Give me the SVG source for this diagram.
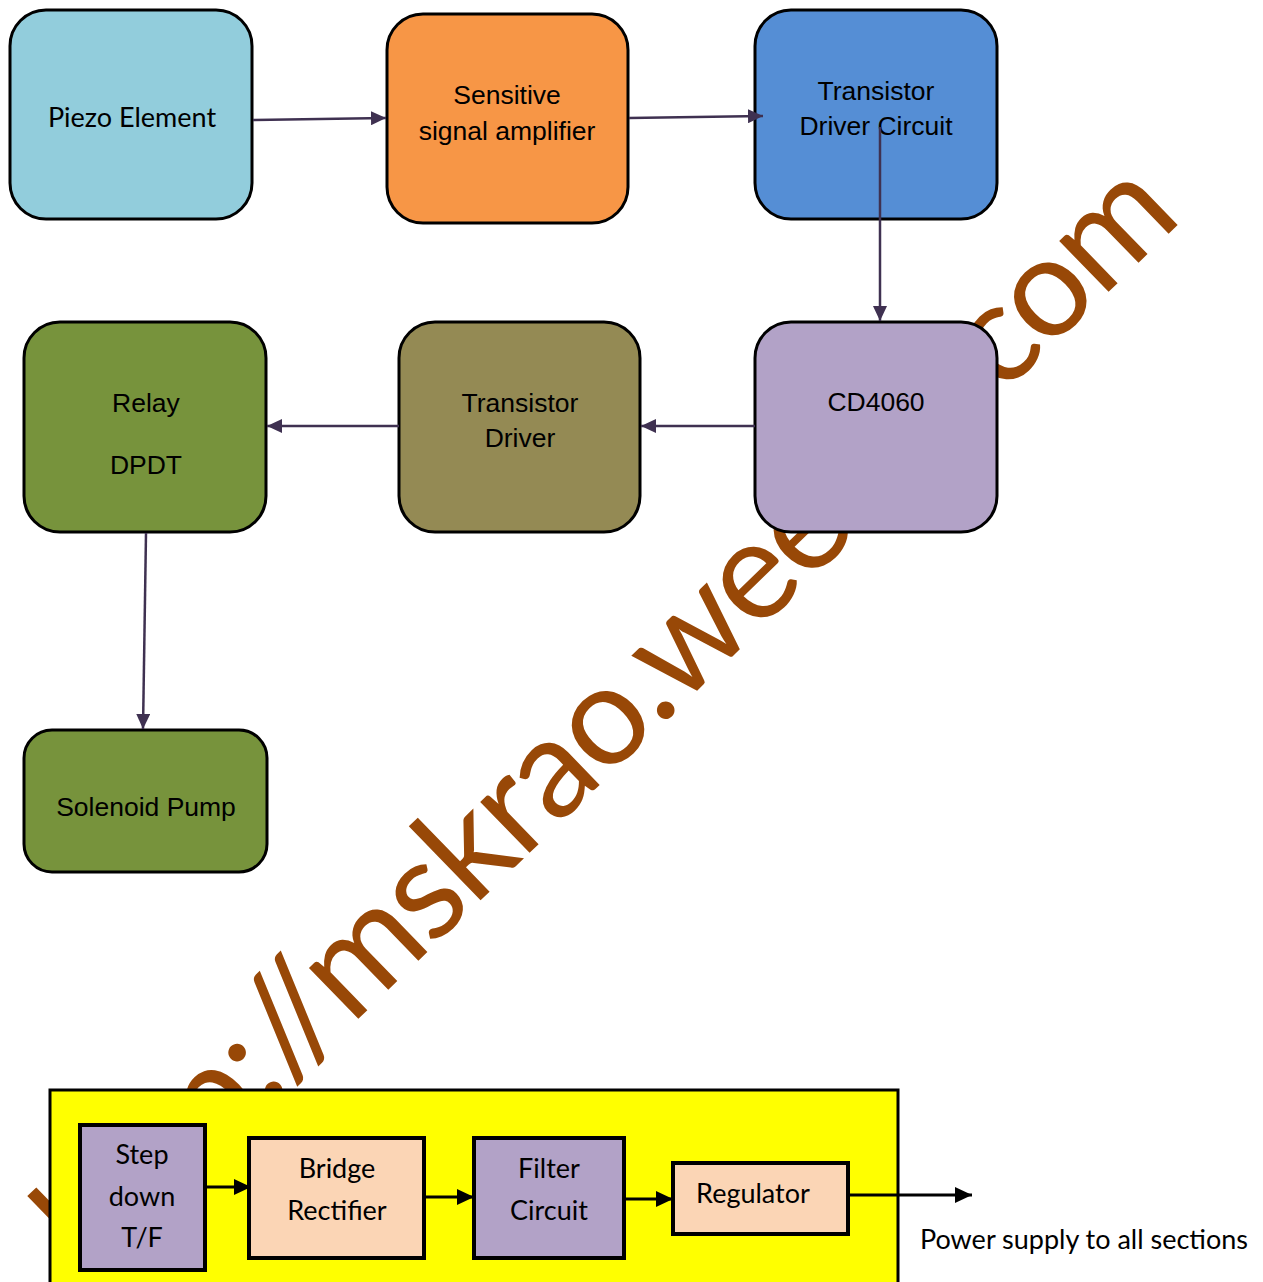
<svg xmlns="http://www.w3.org/2000/svg" width="1263" height="1282" viewBox="0 0 1263 1282">
<style>
.node{stroke:#000;stroke-width:3}
.sq{stroke:#000;stroke-width:4}
.ar{font-family:"Liberation Sans",Arial,sans-serif;font-size:26.5px;fill:#000;text-anchor:middle}
.ca{font-family:Lato,"Open Sans",sans-serif;font-size:27px;fill:#000;text-anchor:middle}
.pc{stroke:#3F3151;stroke-width:2.5;fill:none}
.bc{stroke:#000;stroke-width:3;fill:none}
.wm{font-family:Lato,"Open Sans",sans-serif;font-size:140px;fill:#984807}
</style>
<defs>
<marker id="pa" markerUnits="userSpaceOnUse" markerWidth="16" markerHeight="14" refX="15" refY="7" orient="auto">
<path d="M0,0 L15,7 L0,14 z" fill="#3F3151"/>
</marker>
<marker id="ba" markerUnits="userSpaceOnUse" markerWidth="18" markerHeight="16" refX="17" refY="8" orient="auto">
<path d="M0,0 L17,8 L0,16 z" fill="#000"/>
</marker>
</defs>
<rect width="1263" height="1282" fill="#fff"/>
<g id="watermark">
<text class="wm" transform="translate(92,1277) rotate(-44.1)" textLength="1521" lengthAdjust="spacing">http://mskrao.weebly.com</text>
</g>
<g id="piezo">
<rect class="node" x="10" y="10" width="242" height="209" rx="36" fill="#92CDDC"/>
<text class="ca" x="132" y="127">Piezo Element</text>
</g>
<g id="amplifier">
<rect class="node" x="387" y="14" width="241" height="209" rx="36" fill="#F79646"/>
<text class="ar" x="507" y="104">Sensitive</text>
<text class="ar" x="507" y="140">signal amplifier</text>
</g>
<g id="driver-circuit">
<rect class="node" x="755" y="10" width="242" height="209" rx="36" fill="#558ED5"/>
<text class="ar" x="876" y="100">Transistor</text>
<text class="ar" x="876" y="135">Driver Circuit</text>
</g>
<g id="cd4060">
<rect class="node" x="755" y="322" width="242" height="210" rx="36" fill="#B2A2C7"/>
<text class="ar" x="876" y="411">CD4060</text>
</g>
<g id="transistor-driver">
<rect class="node" x="399" y="322" width="241" height="210" rx="36" fill="#948A54"/>
<text class="ar" x="520" y="412">Transistor</text>
<text class="ar" x="520" y="447">Driver</text>
</g>
<g id="relay">
<rect class="node" x="24" y="322" width="242" height="210" rx="36" fill="#77933C"/>
<text class="ar" x="146" y="412">Relay</text>
<text class="ar" x="146" y="474">DPDT</text>
</g>
<g id="solenoid">
<rect class="node" x="24" y="730" width="243" height="142" rx="28" fill="#77933C"/>
<text class="ar" x="146" y="816">Solenoid Pump</text>
</g>
<g id="power-supply">
<rect x="50" y="1090" width="848" height="200" fill="#FFFF00" stroke="#000" stroke-width="3"/>
</g>
<g id="stepdown">
<rect class="sq" x="80" y="1125" width="125" height="145" fill="#B2A2C7"/>
<text class="ca" x="142" y="1164">Step</text>
<text class="ca" x="142" y="1206">down</text>
<text class="ca" x="142" y="1247">T/F</text>
</g>
<g id="bridge">
<rect class="sq" x="249" y="1138" width="175" height="120" fill="#FBD5B5"/>
<text class="ca" x="337" y="1178">Bridge</text>
<text class="ca" x="337" y="1220">Rectifier</text>
</g>
<g id="filter">
<rect class="sq" x="474" y="1138" width="150" height="120" fill="#B2A2C7"/>
<text class="ca" x="549" y="1178">Filter</text>
<text class="ca" x="549" y="1220">Circuit</text>
</g>
<g id="regulator">
<rect class="sq" x="673" y="1163" width="175" height="71" fill="#FBD5B5"/>
<text class="ca" x="753" y="1203">Regulator</text>
</g>
<text class="ca" x="920" y="1249" style="text-anchor:start">Power supply to all sections</text>
<g id="connectors">
<line class="pc" x1="253" y1="120" x2="386" y2="118" marker-end="url(#pa)"/>
<line class="pc" x1="629" y1="118" x2="763" y2="116" marker-end="url(#pa)"/>
<line class="pc" x1="880" y1="127" x2="880" y2="321" marker-end="url(#pa)"/>
<line class="pc" x1="755" y1="426" x2="641" y2="426" marker-end="url(#pa)"/>
<line class="pc" x1="399" y1="426" x2="267" y2="426" marker-end="url(#pa)"/>
<line class="pc" x1="146" y1="533" x2="143" y2="729" marker-end="url(#pa)"/>
<line class="bc" x1="205" y1="1187" x2="251" y2="1187" marker-end="url(#ba)"/>
<line class="bc" x1="424" y1="1197" x2="474" y2="1197" marker-end="url(#ba)"/>
<line class="bc" x1="624" y1="1199" x2="673" y2="1199" marker-end="url(#ba)"/>
<line class="bc" x1="848" y1="1195" x2="972" y2="1195" marker-end="url(#ba)"/>
</g>
</svg>
